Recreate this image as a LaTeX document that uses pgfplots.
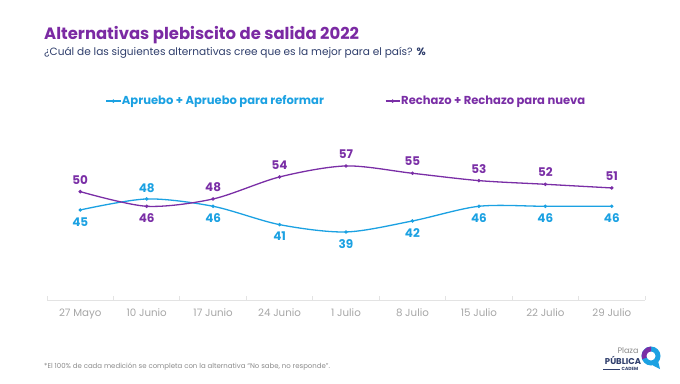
\documentclass[border=0pt]{standalone}
\usepackage{pgfplots}
\pgfplotsset{compat=1.18}
\usepackage{fontspec}
\setmainfont{Poppins}
\definecolor{apr}{HTML}{1BA1E2}
\definecolor{rec}{HTML}{7A2EA6}
\definecolor{ttl}{HTML}{7B2AA3}
\definecolor{subc}{HTML}{2E3D6B}
\definecolor{tickc}{HTML}{A6A6A6}
\definecolor{axl}{HTML}{E3E3E3}
\definecolor{footc}{HTML}{8A8A8A}
\begin{document}
\begin{tikzpicture}[x=1bp,y=1bp]
\path[use as bounding box] (0,0) rectangle (680,383);
\node[anchor=west,inner sep=0,text=ttl,font=\fontsize{16.5}{18}\selectfont\bfseries] at (44,348) {Alternativas plebiscito de salida 2022};
\node[anchor=west,inner sep=0,text=subc,font=\fontsize{10.6}{12}\selectfont] at (44,330) {¿Cuál de las siguientes alternativas cree que es la mejor para el país? \textbf{\%}};
\node[anchor=west,inner sep=0,text=footc,font=\fontsize{7}{8}\selectfont] at (44,16) {*El 100\% de cada medición se completa con la alternativa ``No sabe, no responde''.};
\begin{axis}[
  at={(47bp,83bp)}, anchor=south west, scale only axis,
  width=598bp, height=170bp,
  xmin=-0.5, xmax=8.5, ymin=20.45, ymax=66.8,
  axis x line*=bottom, axis y line=none,
  x axis line style={axl, line width=0.8bp},
  xtick={0,...,8},
  xticklabels={27 Mayo,10 Junio,17 Junio,24 Junio,1 Julio,8 Julio,15 Julio,22 Julio,29 Julio},
  minor xtick={-0.5,0.5,...,8.5},
  major tick length=0pt, minor tick length=4bp, tick align=inside,
  every minor tick/.style={axl, line width=0.8bp},
  xticklabel style={font=\fontsize{10.3}{12}\selectfont, text=tickc, yshift=-5bp},
  /pgf/number format/assume math mode=true,
  legend style={at={(0.5,1.17)}, anchor=center, draw=none, fill=none,
    legend columns=2, /tikz/every even column/.append style={column sep=60bp},
    font=\fontsize{11.6}{14}\selectfont\bfseries, inner sep=0pt,
    nodes={inner xsep=1bp}},
  legend image code/.code={\draw[mark repeat=2,mark phase=2,#1] plot coordinates {(0bp,0bp)(7bp,0bp)(14bp,0bp)};},
  clip=false,
]
\addplot[apr, line width=1.3bp, smooth, tension=0.5, mark=*, mark size=1bp] coordinates {
 (0,45) (1,48) (2,46) (3,41) (4,39) (5,42) (6,46) (7,46) (8,46)};
\addlegendentry{\textcolor{apr}{Apruebo + Apruebo para reformar}}
\addplot[rec, line width=1.3bp, smooth, tension=0.5, mark=*, mark size=1bp] coordinates {
 (0,50) (1,46) (2,48) (3,54) (4,57) (5,55) (6,53) (7,52) (8,51)};
\addlegendentry{\textcolor{rec}{Rechazo + Rechazo para nueva}}
% labels
\addplot[draw=none, forget plot, nodes near coords,
  every node near coord/.append style={anchor=center, yshift=-12bp, text=apr, font=\fontsize{12}{14}\selectfont\bfseries}]
 coordinates {(0,45) (2,46) (3,41) (4,39) (5,42) (6,46) (7,46) (8,46)};
\addplot[draw=none, forget plot, nodes near coords,
  every node near coord/.append style={anchor=center, yshift=11bp, text=apr, font=\fontsize{12}{14}\selectfont\bfseries}]
 coordinates {(1,48)};
\addplot[draw=none, forget plot, nodes near coords,
  every node near coord/.append style={anchor=center, yshift=12bp, text=rec, font=\fontsize{12}{14}\selectfont\bfseries}]
 coordinates {(0,50) (2,48) (3,54) (4,57) (5,55) (6,53) (7,52) (8,51)};
\addplot[draw=none, forget plot, nodes near coords,
  every node near coord/.append style={anchor=center, yshift=-12bp, text=rec, font=\fontsize{12}{14}\selectfont\bfseries}]
 coordinates {(1,46)};
\end{axis}
% logo
\node[anchor=center,inner sep=0,text=footc,font=\fontsize{8}{9}\selectfont] at (628,32) {Plaza};
\node[anchor=center,inner sep=0,text=subc,font=\fontsize{8.5}{9}\selectfont\bfseries] at (623,22.5) {PÚBLICA};
\node[anchor=center,inner sep=0,text=subc,font=\fontsize{4.5}{5}\selectfont\bfseries] at (630,14) {CADEM};
\draw[subc, line width=1bp] (603,14) -- (620,14);
\fill[apr] (651,27) circle (9.5);
\fill[rec] (651,27) -- (651,36.5) arc (90:200:9.5) -- cycle;
\fill[white] (651,27) circle (4.5);
\fill[apr] (653,17.5) -- (660,14) -- (658,22) -- cycle;
\end{tikzpicture}
\end{document}
